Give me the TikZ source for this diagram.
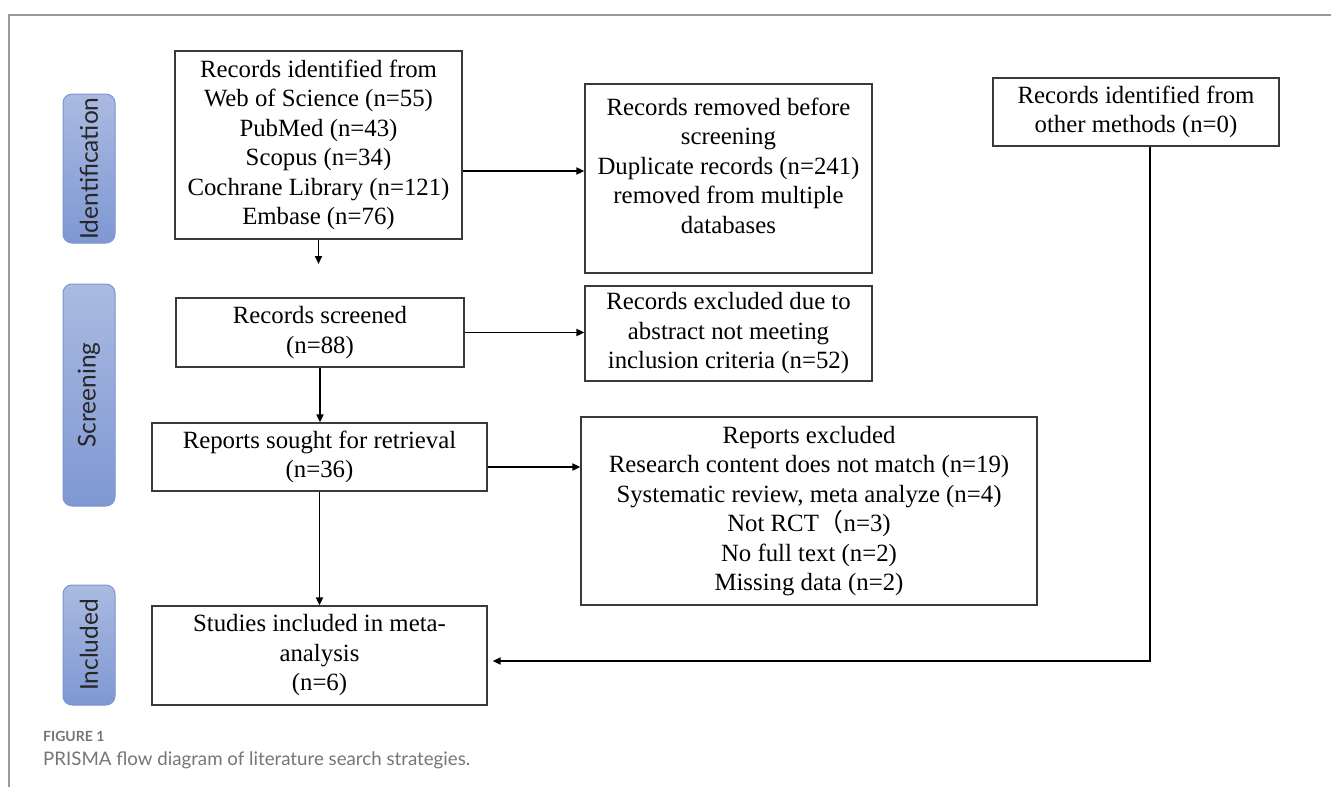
\documentclass[tikz,border=0pt]{standalone}
\usepackage{fontspec}
\setmainfont{Liberation Serif}
\newfontfamily\labfont{Lato}
\newfontfamily\cjkfont{Noto Sans CJK SC}
\usetikzlibrary{arrows.meta}
\definecolor{boxline}{HTML}{3A3A3A}
\definecolor{framegray}{HTML}{9A9A9A}
\definecolor{capgray}{HTML}{767676}
\definecolor{labtop}{HTML}{AABAE1}
\definecolor{labbot}{HTML}{7F98D3}
\definecolor{labedge}{HTML}{7C95D0}
\begin{document}
\begin{tikzpicture}[x=1pt,y=-1pt,
  box/.style={draw=boxline, line width=1.3pt, inner sep=0pt, align=center,
    font=\fontsize{24.8}{29.5}\selectfont},
  txt/.style={inner sep=0pt, align=center, font=\fontsize{24.8}{29.5}\selectfont},
  phase/.style={draw=labedge, line width=1pt, rounded corners=9pt,
    top color=labtop, bottom color=labbot, minimum width=52pt, inner sep=0pt},
  plab/.style={rotate=90, inner sep=0pt, text=black!85, font=\labfont\fontsize{24.5}{26}\selectfont},
  arr/.style={draw=black, line width=1.8pt, -{Triangle[length=8pt,width=7pt]}}]
\useasboundingbox (0,0) rectangle (1331,787);
\fill[white] (0,0) rectangle (1331,787);
\draw[framegray, line width=1.3pt] (1331,15) -- (9,15) -- (9,787);

% phase labels
\node[phase, minimum height=149pt] (pid) at (89,168.5) {};
\node[plab] (tid) at (89,168.5) {Identification};
\node[phase, minimum height=222pt] (psc) at (89,395) {};
\node[plab] (tsc) at (89,395) {Screening};
\node[phase, minimum height=120pt] (pin) at (89,645) {};
\node[plab] (tin) at (89,645) {Included};

% boxes
\node[box, minimum width=287pt, minimum height=188pt] (ident) at (318.5,145)
  {Records identified from\\Web of Science (n=55)\\PubMed (n=43)\\Scopus (n=34)\\Cochrane Library (n=121)\\Embase (n=76)};
\node[box, minimum width=287pt, minimum height=189pt] (removed) at (728.5,178.5) {};
\node[txt] (removedtxt) at (728.5,165.5)
  {Records removed before\\screening\\Duplicate records (n=241)\\removed from multiple\\databases};
\node[box, minimum width=286pt, minimum height=68pt] (other) at (1136,112)
  {Records identified from\\other methods (n=0)};
\node[box, minimum width=288pt, minimum height=69pt] (screened) at (320,332.5)
  {Records screened\\(n=88)};
\node[box, minimum width=287pt, minimum height=95pt] (exabs) at (728.5,333.5)
  {Records excluded due to\\abstract not meeting\\inclusion criteria (n=52)};
\node[box, minimum width=335pt, minimum height=68pt] (sought) at (319.5,457)
  {Reports sought for retrieval\\(n=36)};
\node[box, minimum width=456pt, minimum height=188pt] (repex) at (809,511)
  {Reports excluded\\Research content does not match (n=19)\\Systematic review, meta analyze (n=4)\\Not RCT{\cjkfont （}n=3)\\No full text (n=2)\\Missing data (n=2)};
\node[box, minimum width=335pt, minimum height=99pt] (studies) at (319.5,655.5)
  {Studies included in meta-\\analysis\\(n=6)};

% connectors
\coordinate (gapend) at (318.5,264);
\draw[arr] (ident.south) -- (gapend);
\draw[arr] ([yshift=-26pt]ident.east) -- ([yshift=-26pt]ident.east -| removed.west);
\draw[arr] (screened.east) -- (screened.east -| exabs.west);
\draw[arr] (screened.south) -- (screened.south |- sought.north);
\draw[arr] ([yshift=-10pt]sought.east) -- ([yshift=-10pt]sought.east -| repex.west);
\draw[arr] (sought.south) -- (studies.north);
\draw[arr] ([xshift=14pt]other.south) |- ([xshift=5pt,yshift=-5.5pt]studies.east);

% caption
\node[anchor=base west, inner sep=0pt, text=capgray, font=\labfont\bfseries\fontsize{14}{16}\selectfont] (fig) at (43,741) {FIGURE 1};
\node[anchor=base west, inner sep=0pt, text=capgray, font=\labfont\fontsize{18.7}{20}\selectfont] (cap) at (43,765) {PRISMA flow diagram of literature search strategies.};
\end{tikzpicture}
\end{document}
